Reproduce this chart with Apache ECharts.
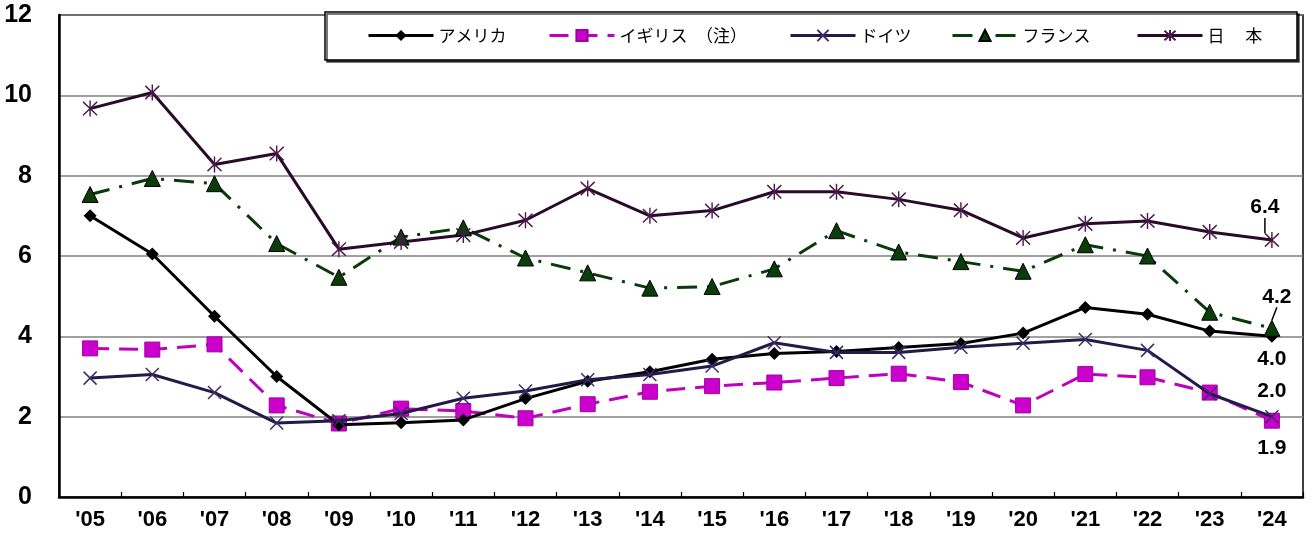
<!DOCTYPE html>
<html>
<head>
<meta charset="utf-8">
<script src="https://cdn.jsdelivr.net/npm/echarts@6/dist/echarts.min.js"></script>
<style>
  html, body { margin: 0; padding: 0; background: #fff; }
  #chart { width: 1311px; height: 535px; }
</style>
</head>
<body>
<div id="chart"></div>
<script>
// Categories (years) and one array of values per country
const years = ["'05", "'06", "'07", "'08", "'09", "'10", "'11", "'12", "'13", "'14",
               "'15", "'16", "'17", "'18", "'19", "'20", "'21", "'22", "'23", "'24"];
const usa     = [7.0, 6.05, 4.5, 3.0, 1.8, 1.85, 1.92, 2.45, 2.88, 3.12, 3.43, 3.57, 3.62, 3.72, 3.82, 4.08, 4.72, 4.55, 4.13, 4.0];
const uk      = [3.7, 3.67, 3.8, 2.28, 1.83, 2.2, 2.14, 1.96, 2.31, 2.62, 2.76, 2.85, 2.96, 3.07, 2.86, 2.28, 3.06, 2.98, 2.6, 1.9];
const germany = [2.96, 3.05, 2.6, 1.84, 1.9, 2.08, 2.46, 2.64, 2.92, 3.05, 3.26, 3.84, 3.6, 3.6, 3.73, 3.83, 3.92, 3.65, 2.57, 2.0];
const france  = [7.53, 7.93, 7.8, 6.31, 5.47, 6.47, 6.7, 5.95, 5.58, 5.2, 5.24, 5.68, 6.63, 6.1, 5.86, 5.62, 6.28, 6.0, 4.6, 4.2];
const japan   = [9.67, 10.07, 8.28, 8.55, 6.17, 6.35, 6.52, 6.89, 7.68, 7.0, 7.13, 7.6, 7.6, 7.41, 7.14, 6.45, 6.8, 6.87, 6.6, 6.4];
const names   = ['アメリカ', 'イギリス　（注）', 'ドイツ', 'フランス', '日　 本'];
const yTicks  = { min: 0, max: 12, interval: 2 };

const CJK = '"Noto Sans CJK JP", sans-serif';
const LATIN = '"Liberation Sans", Arial, sans-serif';

// Only the latest year carries a value label
function withEndLabel(values, labelCfg) {
  const last = values.length - 1;
  return values.map((v, i) => i === last
    ? { value: v, label: Object.assign({
          show: true,
          formatter: p => Number(p.value).toFixed(1),
          fontFamily: LATIN, fontWeight: 'bold', fontSize: 21, color: '#000'
        }, labelCfg) }
    : v);
}

// Lift a label above its marker (shift in px) so a short guide line joins them
function liftLabel(dx, lift) {
  return p => ({
    x: p.rect.x + p.rect.width / 2 + dx,
    y: p.rect.y + p.rect.height / 2 - lift,
    align: 'center',
    verticalAlign: 'bottom'
  });
}

const crossPath = 'path://M0,0L10,10M10,0L0,10';
const starPath  = 'path://M0,1L10,11M10,1L0,11M5,0L5,12';
const guide = { show: true, lineStyle: { color: '#000', width: 1.5 } };

const series = [
  {
    name: names[0], type: 'line', z: 3,
    data: withEndLabel(usa, { position: 'bottom', distance: 6 }),
    symbol: 'diamond', symbolSize: 13,
    lineStyle: { color: '#000', width: 3 },
    itemStyle: { color: '#000' }
  },
  {
    name: names[1], type: 'line', z: 2,
    data: withEndLabel(uk, { position: 'bottom', distance: 9 }),
    symbol: 'rect', symbolSize: 15,
    lineStyle: { color: '#c000c0', width: 3, type: [19, 10] },
    itemStyle: { color: '#cc00cc', borderColor: '#a000a0', borderWidth: 1 }
  },
  {
    name: names[2], type: 'line', z: 4,
    data: withEndLabel(germany, { position: 'top', distance: 6 }),
    symbol: crossPath, symbolSize: 13,
    lineStyle: { color: '#231a48', width: 3 },
    itemStyle: { color: 'none', borderColor: '#3a2d6a', borderWidth: 1.5 }
  },
  {
    name: names[3], type: 'line', z: 3,
    data: withEndLabel(france, { position: 'top', distance: 6 }),
    symbol: 'triangle', symbolSize: 16,
    lineStyle: { color: '#0a3a0a', width: 3, type: [20, 10, 3, 10] },
    itemStyle: { color: '#0a3d0a', borderColor: '#000', borderWidth: 1 },
    labelLayout: liftLabel(5, 21),
    labelLine: guide
  },
  {
    name: names[4], type: 'line', z: 3,
    data: withEndLabel(japan, { position: 'top', distance: 6 }),
    symbol: starPath, symbolSize: [14, 16],
    lineStyle: { color: '#2a0a2a', width: 3 },
    itemStyle: { color: 'none', borderColor: '#4a1a4a', borderWidth: 1.5 },
    labelLayout: liftLabel(-7, 22),
    labelLine: guide
  }
];

// One legend per entry so each sits at its own spot in the framed box
const legendLefts = [367, 548, 789, 951, 1136];
const legends = names.map((n, i) => ({
  data: [n],
  left: legendLefts[i], top: 27,
  padding: 0,
  itemWidth: 65, itemHeight: 14, itemGap: 0,
  lineStyle: { width: 3 },
  textStyle: { fontFamily: CJK, fontSize: 17, color: '#000' },
  selectedMode: false
}));

const chart = echarts.init(document.getElementById('chart'), null, { renderer: 'canvas' });
chart.setOption({
  animation: false,
  backgroundColor: '#fff',
  grid: {
    left: 59, right: 8, top: 15, bottom: 38,
    show: true, borderColor: '#000', borderWidth: 1.5, backgroundColor: 'transparent'
  },
  legend: legends,
  graphic: [{
    type: 'rect', z: 3,
    shape: { x: 325, y: 12, width: 972, height: 48 },
    style: { fill: '#fff', stroke: '#000', lineWidth: 1.5,
             shadowColor: 'rgba(0,0,0,0.7)', shadowOffsetX: 2, shadowOffsetY: 2, shadowBlur: 0 }
  }],
  xAxis: {
    type: 'category', data: years, boundaryGap: true,
    axisLine: { show: true, lineStyle: { color: '#000', width: 2.5 } },
    axisTick: { show: true, inside: true, length: 5, lineStyle: { color: '#000', width: 1.2 } },
    axisLabel: { fontFamily: LATIN, fontWeight: 'bold', fontSize: 22, color: '#000', margin: 12, interval: 0 },
    splitLine: { show: false }
  },
  yAxis: {
    type: 'value', min: yTicks.min, max: yTicks.max, interval: yTicks.interval,
    axisLine: { show: true, lineStyle: { color: '#000', width: 2.5 } },
    axisTick: { show: false },
    axisLabel: { fontFamily: LATIN, fontWeight: 'bold', fontSize: 25, color: '#000', margin: 27 },
    splitLine: { show: true, lineStyle: { color: '#808080', width: 1.5 } }
  },
  series: series
});
</script>
</body>
</html>
